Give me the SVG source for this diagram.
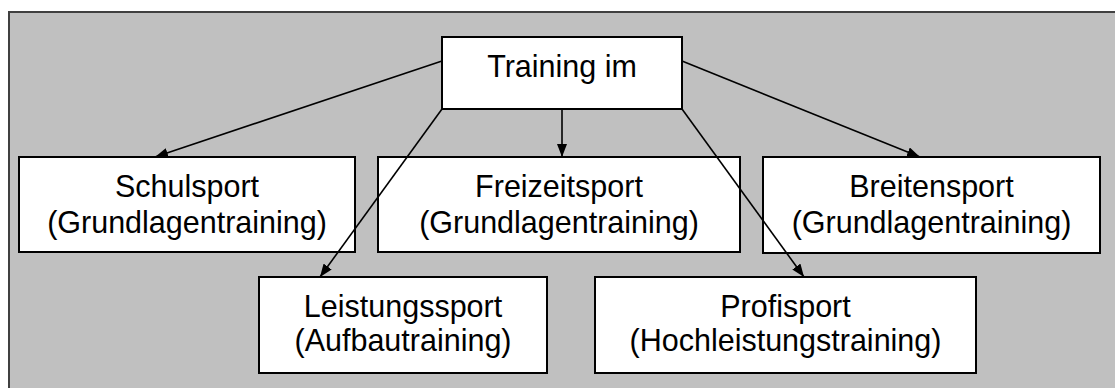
<svg xmlns="http://www.w3.org/2000/svg" width="1115" height="388" viewBox="0 0 1115 388">
  <defs>
    <marker id="arrow" viewBox="0 0 13 10" refX="13" refY="5" markerWidth="13" markerHeight="10" markerUnits="userSpaceOnUse" orient="auto">
      <path d="M0,0 L13,5 L0,10 Z" fill="#000"/>
    </marker>
    <style>
      .box { fill: #fff; stroke: #000; stroke-width: 2; }
      .lbl { font-family: "Liberation Sans", Arial, sans-serif; font-size: 30.5px; fill: #000; text-anchor: middle; }
      .edge { stroke: #000; stroke-width: 1.6; fill: none; marker-end: url(#arrow); }
    </style>
  </defs>

  <!-- background panel -->
  <rect x="0" y="0" width="1115" height="388" fill="#fff"/>
  <rect x="9" y="12" width="1120" height="400" fill="#c0c0c0" stroke="#404040" stroke-width="2"/>

  <g id="training">
    <rect class="box" x="442" y="37" width="240" height="72"/>
    <text class="lbl" x="562" y="77">Training im</text>
  </g>

  <g id="schulsport">
    <rect class="box" x="19" y="157" width="336" height="95"/>
    <text class="lbl" x="187" y="197">Schulsport</text>
    <text class="lbl" x="187" y="233">(Grundlagentraining)</text>
  </g>

  <g id="freizeitsport">
    <rect class="box" x="378" y="157" width="362" height="95"/>
    <text class="lbl" x="559" y="197">Freizeitsport</text>
    <text class="lbl" x="559" y="233">(Grundlagentraining)</text>
  </g>

  <g id="breitensport">
    <rect class="box" x="763" y="157" width="337" height="96"/>
    <text class="lbl" x="931.5" y="197">Breitensport</text>
    <text class="lbl" x="931.5" y="233">(Grundlagentraining)</text>
  </g>

  <g id="leistungssport">
    <rect class="box" x="259" y="277" width="288" height="96"/>
    <text class="lbl" x="403" y="317">Leistungssport</text>
    <text class="lbl" x="403" y="351">(Aufbautraining)</text>
  </g>

  <g id="profisport">
    <rect class="box" x="595" y="277" width="381" height="96"/>
    <text class="lbl" x="785.5" y="317">Profisport</text>
    <text class="lbl" x="785.5" y="351">(Hochleistungstraining)</text>
  </g>

  <!-- connectors drawn over the boxes they cross -->
  <g id="connectors">
    <line class="edge" x1="442" y1="61" x2="155" y2="157"/>
    <line class="edge" x1="442" y1="109" x2="320" y2="277"/>
    <line class="edge" x1="562" y1="109" x2="562" y2="157"/>
    <line class="edge" x1="682" y1="109" x2="804" y2="277"/>
    <line class="edge" x1="682" y1="61" x2="920" y2="157"/>
  </g>
</svg>
